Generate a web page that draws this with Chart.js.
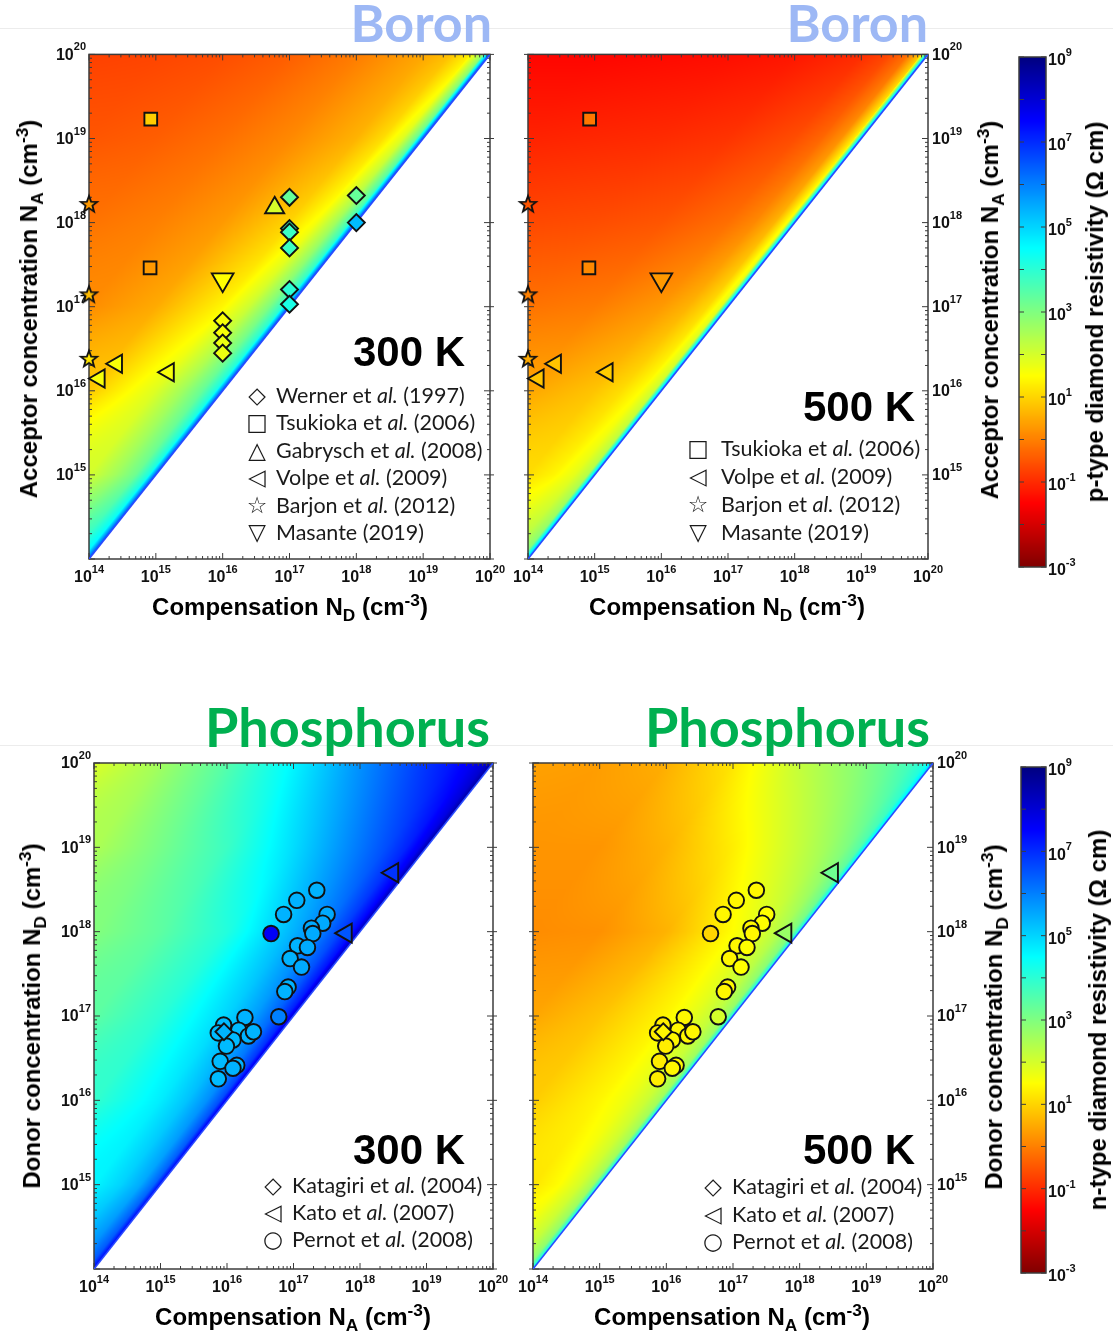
<!DOCTYPE html>
<html>
<head>
<meta charset="utf-8">
<title>Diamond resistivity maps</title>
<script src="https://cdn.jsdelivr.net/npm/chart.js@4.4.1/dist/chart.umd.min.js"></script>
<style>
  html, body { margin: 0; padding: 0; background: #fff; }
  body { position: relative; width: 1113px; height: 1340px; overflow: hidden;
         font-family: "Liberation Sans", Arial, sans-serif; }
  canvas, .t { position: absolute; }
  .t { white-space: nowrap; line-height: 1; }
  .title { font-family: Lato, sans-serif; font-weight: 700; font-size: 52px; }
  .boron { color: #9db8f5; }
  .phos { color: #00b050; font-size: 54px; }
  .temp { font-weight: 700; font-size: 42px; color: #000; }
  .ax { font-weight: 700; font-size: 24px; color: #000; }
  .ax sub, .ax sup { font-size: 0.72em; position: relative; vertical-align: baseline; }
  .ax sub { top: 0.35em; }
  .ax sup { top: -0.55em; }
  .xt { transform: translateX(-50%); }
  .rot { transform: translate(-50%, -50%) rotate(-90deg); }
  .leg { position: absolute; font-family: Lato, sans-serif; font-size: 21.5px; color: #1a1a1a; white-space: nowrap; }
  .leg div { position: relative; }
  .leg .m { position: absolute; left: 0; top: 0; width: 24px; text-align: center;
            font-family: "DejaVu Sans", sans-serif; font-weight: bold; font-size: 23px; }
  .leg .s { position: absolute; left: 31px; top: 0; }
  .sep { position: absolute; left: 0; width: 1113px; height: 1px; background: #ececec; }
</style>
</head>
<body>
<div class="sep" style="top:28px"></div>
<div class="sep" style="top:745px"></div>

<div class="t title boron" style="right:621px; top:-4px">Boron</div>
<div class="t title boron" style="right:185px; top:-4px">Boron</div>
<div class="t title phos" style="right:623px; top:700px">Phosphorus</div>
<div class="t title phos" style="right:183px; top:700px">Phosphorus</div>

<canvas id="cTL" width="475" height="560" style="left:30px; top:40px"></canvas>
<canvas id="cTR" width="470" height="560" style="left:510px; top:40px"></canvas>
<canvas id="cBL" width="475" height="560" style="left:35px; top:750px"></canvas>
<canvas id="cBR" width="470" height="560" style="left:513px; top:750px"></canvas>
<canvas id="cbTop" width="80" height="535" style="left:1005px; top:45px"></canvas>
<canvas id="cbBot" width="80" height="530" style="left:1005px; top:755px"></canvas>

<div class="t temp" style="left:353px; top:331px">300 K</div>
<div class="t temp" style="left:803px; top:386px">500 K</div>
<div class="t temp" style="left:353px; top:1129px">300 K</div>
<div class="t temp" style="left:803px; top:1129px">500 K</div>

<div class="leg" style="left:245px; top:382px; line-height:27.4px">
  <div style="height:27.4px"><span class="m">◇</span><span class="s">Werner et <i>al.</i> (1997)</span></div>
  <div style="height:27.4px"><span class="m">□</span><span class="s">Tsukioka et <i>al.</i> (2006)</span></div>
  <div style="height:27.4px"><span class="m">△</span><span class="s">Gabrysch et <i>al.</i> (2008)</span></div>
  <div style="height:27.4px"><span class="m">◁</span><span class="s">Volpe et <i>al.</i> (2009)</span></div>
  <div style="height:27.4px"><span class="m">☆</span><span class="s">Barjon et <i>al.</i> (2012)</span></div>
  <div style="height:27.4px"><span class="m">▽</span><span class="s">Masante (2019)</span></div>
</div>
<div class="leg" style="left:686px; top:434px; line-height:28px">
  <div style="height:28px"><span class="m">□</span><span class="s" style="left:35px">Tsukioka et <i>al.</i> (2006)</span></div>
  <div style="height:28px"><span class="m">◁</span><span class="s" style="left:35px">Volpe et <i>al.</i> (2009)</span></div>
  <div style="height:27.5px"><span class="m">☆</span><span class="s" style="left:35px">Barjon et <i>al.</i> (2012)</span></div>
  <div style="height:27.5px"><span class="m">▽</span><span class="s" style="left:35px">Masante (2019)</span></div>
</div>
<div class="leg" style="left:261px; top:1172px; line-height:27px">
  <div style="height:27px"><span class="m">◇</span><span class="s">Katagiri et <i>al.</i> (2004)</span></div>
  <div style="height:27px"><span class="m">◁</span><span class="s">Kato et <i>al.</i> (2007)</span></div>
  <div style="height:27px"><span class="m">○</span><span class="s">Pernot et <i>al.</i> (2008)</span></div>
</div>
<div class="leg" style="left:701px; top:1173px; line-height:27.5px">
  <div style="height:27.5px"><span class="m">◇</span><span class="s">Katagiri et <i>al.</i> (2004)</span></div>
  <div style="height:27.5px"><span class="m">◁</span><span class="s">Kato et <i>al.</i> (2007)</span></div>
  <div style="height:27.5px"><span class="m">○</span><span class="s">Pernot et <i>al.</i> (2008)</span></div>
</div>

<div class="t ax xt" style="left:290px; top:595px">Compensation N<sub>D</sub> (cm<sup>-3</sup>)</div>
<div class="t ax xt" style="left:727px; top:595px">Compensation N<sub>D</sub> (cm<sup>-3</sup>)</div>
<div class="t ax xt" style="left:293px; top:1305px">Compensation N<sub>A</sub> (cm<sup>-3</sup>)</div>
<div class="t ax xt" style="left:732px; top:1305px">Compensation N<sub>A</sub> (cm<sup>-3</sup>)</div>

<div class="t ax rot" style="left:29px; top:309px">Acceptor concentration N<sub>A</sub> (cm<sup>-3</sup>)</div>
<div class="t ax rot" style="left:990px; top:310px">Acceptor concentration N<sub>A</sub> (cm<sup>-3</sup>)</div>
<div class="t ax rot" style="left:1095px; top:312px">p-type diamond resistivity (Ω cm)</div>
<div class="t ax rot" style="left:32px; top:1016px">Donor concentration N<sub>D</sub> (cm<sup>-3</sup>)</div>
<div class="t ax rot" style="left:994px; top:1017px">Donor concentration N<sub>D</sub> (cm<sup>-3</sup>)</div>
<div class="t ax rot" style="left:1098px; top:1020px">n-type diamond resistivity (Ω cm)</div>

<script>
// axis decades (log10 of cm^-3) and colour bar decades (log10 of ohm cm)
const decades = [14, 15, 16, 17, 18, 19, 20];
const yLabelled = [15, 16, 17, 18, 19, 20];
const cbDecades = [-3, -2, -1, 0, 1, 2, 3, 4, 5, 6, 7, 8, 9];
const cbLabelled = [9, 7, 5, 3, 1, -1, -3];

// resistivity maps, log10(rho)
// rows: log10 of the doping on the y axis, cols: log10(x / y) i.e. decades left of the diagonal
const mapRows = [14, 15, 16, 17, 18, 19, 20];
const mapCols = [-6, -5, -4, -3, -2, -1, -0.6, -0.3, -0.1, 0];

const rhoB300 = [
  [3.6, 3.6, 3.6, 3.6, 3.6, 3.6, 3.8, 4.1, 4.6, 6.5],
  [2.0, 2.0, 2.0, 2.0, 2.0, 2.0, 2.6, 3.2, 4.2, 6.5],
  [0.85, 0.85, 0.85, 0.85, 0.85, 1.9, 2.6, 3.3, 4.2, 6.5],
  [0.15, 0.15, 0.15, 0.15, 0.5, 1.4, 2.1, 3.0, 4.0, 6.5],
  [-0.15, -0.15, -0.15, 0.0, 0.3, 1.0, 1.6, 2.6, 3.8, 6.5],
  [-0.5, -0.5, -0.4, -0.2, 0.1, 0.6, 1.1, 1.9, 3.3, 6.5],
  [-0.75, -0.7, -0.6, -0.4, -0.05, 0.45, 0.75, 1.3, 2.8, 6.5]
];
const rhoB500 = [
  [2.2, 2.2, 2.2, 2.2, 2.2, 2.2, 2.3, 2.5, 3.0, 5.5],
  [1.1, 1.1, 1.1, 1.1, 1.1, 1.1, 1.4, 1.8, 2.4, 5.5],
  [0.45, 0.45, 0.45, 0.45, 0.45, 0.8, 1.1, 1.5, 2.1, 5.5],
  [-0.2, -0.2, -0.2, -0.15, -0.05, 0.3, 0.6, 1.05, 1.8, 5.5],
  [-0.7, -0.7, -0.65, -0.6, -0.5, -0.2, 0.1, 0.6, 1.6, 5.5],
  [-1.1, -1.1, -1.05, -1.0, -0.9, -0.6, -0.3, 0.2, 1.3, 5.5],
  [-1.45, -1.45, -1.4, -1.35, -1.25, -1.0, -0.7, -0.2, 0.9, 5.5]
];
const rhoP300 = [
  [5.2, 5.2, 5.2, 5.2, 5.2, 5.2, 5.5, 5.9, 6.5, 7.5],
  [4.6, 4.6, 4.6, 4.6, 4.6, 4.6, 5.0, 5.5, 6.3, 7.5],
  [3.9, 3.9, 3.9, 3.9, 3.9, 4.7, 5.2, 5.8, 6.6, 7.8],
  [3.4, 3.4, 3.4, 3.4, 4.0, 5.0, 5.6, 6.3, 7.1, 8.0],
  [2.95, 2.95, 2.95, 3.4, 4.1, 5.4, 6.0, 6.7, 7.4, 8.3],
  [2.45, 2.45, 3.1, 3.8, 4.9, 6.1, 6.6, 7.1, 7.7, 8.5],
  [1.9, 2.6, 3.5, 4.6, 5.8, 6.9, 7.3, 7.7, 8.1, 8.6]
];
const rhoP500 = [
  [1.7, 1.7, 1.7, 1.7, 1.7, 1.7, 1.9, 2.3, 2.9, 4.5],
  [1.2, 1.2, 1.2, 1.2, 1.2, 1.2, 1.5, 2.0, 2.6, 4.5],
  [0.9, 0.9, 0.9, 0.9, 0.9, 1.4, 1.7, 2.1, 2.6, 4.5],
  [0.45, 0.45, 0.45, 0.45, 0.8, 1.4, 1.8, 2.2, 2.7, 4.5],
  [0.15, 0.15, 0.15, 0.2, 0.6, 1.5, 1.9, 2.4, 3.0, 4.5],
  [0.25, 0.25, 0.25, 0.6, 1.3, 2.2, 2.6, 3.0, 3.5, 4.8],
  [0.4, 0.35, 0.55, 1.2, 2.2, 3.0, 3.4, 3.8, 4.2, 5.0]
];

// boron-doped samples: compensation ND (x), acceptor NA (y), marker fill as log10(rho)
const wernerND = [1e16, 1e16, 1e16, 1e16, 1e17, 1e17, 1e17, 1e17, 1e17, 1e17, 1e18, 1e18];
const wernerNA = [6.8e16, 4.9e16, 3.7e16, 2.8e16, 2.0e18, 8.5e17, 7.7e17, 5.0e17, 1.6e17, 1.07e17, 2.1e18, 1.0e18];
const wernerR300 = [1.6, 1.6, 1.7, 1.7, 3.3, 3.8, 3.8, 3.8, 4.0, 4.2, 3.3, 5.3];
const tsukiokaND = [8.4e14, 8.2e14];
const tsukiokaNA = [1.7e19, 2.9e17];
const tsukiokaR300 = [0.9, 0.3];
const tsukiokaR500 = [-0.1, 0.1];
const gabryschND = [6e16];
const gabryschNA = [1.5e18];
const gabryschR300 = [2.0];
const volpeND = [1.43e14, 2.6e14, 1.55e15];
const volpeNA = [1.4e16, 2.1e16, 1.66e16];
const volpeR300 = [1.6, 1.6, 1.6];
const volpeR500 = [0.8, 0.8, 0.9];
const barjonND = [1e14, 1e14, 1e14];
const barjonNA = [1.66e18, 1.4e17, 2.4e16];
const barjonR300 = [0.3, 0.7, 1.2];
const barjonR500 = [-0.5, 0.0, 0.5];
const masanteND = [1e16];
const masanteNA = [2.1e17];
const masanteR300 = [1.5];
const masanteR500 = [0.3];

// phosphorus-doped samples: compensation NA (x), donor ND (y)
const pernotNA = [7.1e16, 1.12e17, 2.24e17, 3.2e17, 2.75e17, 1.86e17, 1.95e17, 4.6e16, 1.15e17,
  1.62e17, 8.9e16, 1.32e17, 8.3e16, 7.4e16, 6.0e16, 1.86e16, 8.9e15, 7.4e15, 1.5e16, 2.1e16,
  2.5e16, 1.23e16, 9.8e15, 7.9e15, 1.4e16, 1.23e16, 7.4e15];
const pernotND = [1.6e18, 2.35e18, 3.1e18, 1.6e18, 1.26e18, 1.1e18, 9.5e17, 9.5e17, 6.8e17,
  6.5e17, 4.8e17, 3.8e17, 2.2e17, 1.95e17, 9.8e16, 9.6e16, 7.8e16, 6.3e16, 6.8e16, 5.8e16,
  6.5e16, 5.2e16, 4.4e16, 2.9e16, 2.6e16, 2.4e16, 1.8e16];
const pernotR300 = [5.4, 5.4, 5.4, 5.5, 5.5, 5.5, 5.5, 7.6, 5.4, 5.5, 5.4, 5.5, 5.4, 5.4, 6.0,
  5.4, 5.3, 5.3, 5.3, 5.4, 5.4, 5.3, 5.3, 5.3, 5.4, 5.4, 5.3];
const pernotR500 = [1.4, 1.4, 1.4, 1.5, 1.5, 1.4, 1.4, 1.0, 1.4, 1.5, 1.4, 1.5, 1.4, 1.4, 2.0,
  1.4, 1.3, 1.3, 1.4, 1.4, 1.4, 1.4, 1.3, 1.3, 1.4, 1.4, 1.3];
const katagiriNA = [9e15];
const katagiriND = [6.5e16];
const katagiriR300 = [5.4];
const katagiriR500 = [1.4];
const katoNA = [3.1e18, 6.2e17];
const katoND = [5e18, 9.6e17];
const katoR300 = [6.9, 6.5];
const katoR500 = [3.2, 2.7];

// jet colour map, 10^-3 (dark red) to 10^9 (dark blue)
function jet(L) {
  const f = Math.min(1, Math.max(0, (9 - L) / 12));
  const cl = v => Math.round(255 * Math.min(1, Math.max(0, v)));
  return [cl(1.5 - Math.abs(4 * f - 3)), cl(1.5 - Math.abs(4 * f - 2)), cl(1.5 - Math.abs(4 * f - 1))];
}
function jetCss(L) {
  const c = jet(L);
  return 'rgb(' + c[0] + ',' + c[1] + ',' + c[2] + ')';
}

function mapValue(grid, ly, c) {
  ly = Math.min(20, Math.max(14, ly));
  c = Math.min(0, Math.max(-6, c));
  let i = 0;
  while (i < mapRows.length - 2 && ly > mapRows[i + 1]) i++;
  let j = 0;
  while (j < mapCols.length - 2 && c > mapCols[j + 1]) j++;
  const ty = (ly - mapRows[i]) / (mapRows[i + 1] - mapRows[i]);
  const tx = (c - mapCols[j]) / (mapCols[j + 1] - mapCols[j]);
  const a = grid[i][j] * (1 - tx) + grid[i][j + 1] * tx;
  const b = grid[i + 1][j] * (1 - tx) + grid[i + 1][j + 1] * tx;
  return a * (1 - ty) + b * ty;
}

// "10" with a raised exponent, like the MATLAB tick labels
const baseFont = 'bold 16px "Liberation Sans", Arial, sans-serif';
const expFont = 'bold 11px "Liberation Sans", Arial, sans-serif';
function drawPow(ctx, x, y, e, align) {
  ctx.font = baseFont;
  const wb = ctx.measureText('10').width;
  ctx.font = expFont;
  const we = ctx.measureText(String(e)).width;
  let x0 = x;
  if (align === 'center') x0 = x - (wb + we) / 2;
  if (align === 'right') x0 = x - wb - we;
  ctx.fillStyle = '#111';
  ctx.textBaseline = 'middle';
  ctx.textAlign = 'left';
  ctx.font = baseFont;
  ctx.fillText('10', x0, y);
  ctx.font = expFont;
  ctx.fillText(String(e), x0 + wb, y - 8);
}

function heatPlugin(grid) {
  return {
    id: 'heat',
    beforeDatasetsDraw(chart) {
      const a = chart.chartArea, xs = chart.scales.x, ys = chart.scales.y;
      const w = Math.round(a.right - a.left), h = Math.round(a.bottom - a.top);
      const img = chart.ctx.createImageData(w, h);
      const lx = [];
      for (let i = 0; i < w; i++) lx.push(Math.log10(xs.getValueForPixel(a.left + i + 0.5)));
      for (let r = 0; r < h; r++) {
        const ly = Math.log10(ys.getValueForPixel(a.top + r + 0.5));
        for (let i = 0; i < w; i++) {
          if (lx[i] > ly) continue;
          const col = jet(mapValue(grid, ly, lx[i] - ly));
          const k = (r * w + i) * 4;
          img.data[k] = col[0]; img.data[k + 1] = col[1]; img.data[k + 2] = col[2]; img.data[k + 3] = 255;
        }
      }
      chart.ctx.putImageData(img, Math.round(a.left), Math.round(a.top));
    }
  };
}

function framePlugin(ySide) {
  return {
    id: 'frame',
    beforeDatasetsDraw(chart) {
      const ctx = chart.ctx, a = chart.chartArea, xs = chart.scales.x, ys = chart.scales.y;
      ctx.save();
      ctx.strokeStyle = '#3c3c3c';
      ctx.lineWidth = 1.5;
      ctx.strokeRect(a.left, a.top, a.right - a.left, a.bottom - a.top);
      ctx.lineWidth = 1;
      ctx.beginPath();
      decades.forEach(function (e) {
        for (let k = 1; k <= 9; k++) {
          if (e === 20 && k > 1) break;
          const v = k * Math.pow(10, e), len = k === 1 ? 6 : 3;
          const px = xs.getPixelForValue(v), py = ys.getPixelForValue(v);
          ctx.moveTo(px, a.bottom); ctx.lineTo(px, a.bottom - len);
          ctx.moveTo(px, a.top); ctx.lineTo(px, a.top + len);
          ctx.moveTo(a.left, py); ctx.lineTo(a.left + len, py);
          ctx.moveTo(a.right, py); ctx.lineTo(a.right - len, py);
          if (k === 1) {
            if (ySide === 'left') { ctx.moveTo(a.right, py); ctx.lineTo(a.right + 4, py); }
            else { ctx.moveTo(a.left, py); ctx.lineTo(a.left - 4, py); }
          }
        }
      });
      ctx.stroke();
      decades.forEach(function (e) {
        drawPow(ctx, xs.getPixelForValue(Math.pow(10, e)), a.bottom + 19, e, 'center');
      });
      yLabelled.forEach(function (e) {
        const py = ys.getPixelForValue(Math.pow(10, e));
        if (ySide === 'left') drawPow(ctx, a.left - 3, py + 1, e, 'right');
        else drawPow(ctx, a.right + 4, py + 1, e, 'left');
      });
      ctx.restore();
    }
  };
}

const starCache = {};
function starImage(fill) {
  if (starCache[fill]) return starCache[fill];
  const c = document.createElement('canvas');
  c.width = 22; c.height = 22;
  const g = c.getContext('2d');
  g.beginPath();
  for (let i = 0; i < 10; i++) {
    const r = i % 2 === 0 ? 8.6 : 3.6;
    const t = -Math.PI / 2 + i * Math.PI / 5;
    g.lineTo(11 + r * Math.cos(t), 11.5 + r * Math.sin(t));
  }
  g.closePath();
  g.fillStyle = fill;
  g.fill();
  g.lineWidth = 1.8;
  g.strokeStyle = '#111';
  g.stroke();
  starCache[fill] = c;
  return c;
}

function pts(xv, yv) {
  return xv.map(function (x, i) { return { x: x, y: yv[i] }; });
}

function series(xv, yv, rho, style, radius, rotation) {
  const fills = rho.map(jetCss);
  const ds = {
    data: pts(xv, yv),
    backgroundColor: fills,
    borderColor: '#111',
    borderWidth: 1.9,
    pointRadius: radius,
    pointHoverRadius: radius,
    pointRotation: rotation || 0,
    pointStyle: style,
    clip: false
  };
  if (style === 'star') {
    ds.pointStyle = function (c) { return starImage(fills[c.dataIndex]); };
  }
  return ds;
}

const diagonal = {
  data: [{ x: 1e14, y: 1e14 }, { x: 1e20, y: 1e20 }],
  showLine: true,
  borderColor: '#2a4bff',
  borderWidth: 1.6,
  pointRadius: 0,
  order: 99
};

function panel(id, grid, sets, pad, ySide) {
  new Chart(document.getElementById(id), {
    type: 'scatter',
    data: { datasets: sets.concat([Object.assign({}, diagonal)]) },
    options: {
      responsive: false,
      animation: false,
      devicePixelRatio: 1,
      events: [],
      layout: { padding: pad },
      plugins: { legend: { display: false }, tooltip: { enabled: false } },
      scales: {
        x: { type: 'logarithmic', min: 1e14, max: 1e20, display: false },
        y: { type: 'logarithmic', min: 1e14, max: 1e20, display: false }
      }
    },
    plugins: [heatPlugin(grid), framePlugin(ySide)]
  });
}

function colorBar(id, pad) {
  new Chart(document.getElementById(id), {
    type: 'scatter',
    data: { datasets: [] },
    options: {
      responsive: false,
      animation: false,
      devicePixelRatio: 1,
      events: [],
      layout: { padding: pad },
      plugins: { legend: { display: false }, tooltip: { enabled: false } },
      scales: {
        x: { type: 'linear', min: 0, max: 1, display: false },
        y: { type: 'logarithmic', min: 1e-3, max: 1e9, display: false }
      }
    },
    plugins: [{
      id: 'bar',
      afterDraw(chart) {
        const ctx = chart.ctx, a = chart.chartArea, ys = chart.scales.y;
        for (let py = Math.round(a.top); py < Math.round(a.bottom); py++) {
          ctx.fillStyle = jetCss(Math.log10(ys.getValueForPixel(py + 0.5)));
          ctx.fillRect(a.left, py, a.right - a.left, 1);
        }
        ctx.strokeStyle = '#3c3c3c';
        ctx.lineWidth = 1.5;
        ctx.strokeRect(a.left, a.top, a.right - a.left, a.bottom - a.top);
        ctx.lineWidth = 1;
        ctx.beginPath();
        cbDecades.forEach(function (e) {
          const py = ys.getPixelForValue(Math.pow(10, e));
          ctx.moveTo(a.left, py); ctx.lineTo(a.left + 5, py);
          ctx.moveTo(a.right, py); ctx.lineTo(a.right - 5, py);
        });
        ctx.stroke();
        cbLabelled.forEach(function (e) {
          drawPow(ctx, a.right + 2, ys.getPixelForValue(Math.pow(10, e)) + 4, e, 'left');
        });
      }
    }]
  });
}

const boron300 = [
  series(barjonND, barjonNA, barjonR300, 'star', 9),
  series(volpeND, volpeNA, volpeR300, 'triangle', 10.5, 270),
  series(masanteND, masanteNA, masanteR300, 'triangle', 12.5, 180),
  series(gabryschND, gabryschNA, gabryschR300, 'triangle', 11),
  series(tsukiokaND, tsukiokaNA, tsukiokaR300, 'rect', 9),
  series(wernerND, wernerNA, wernerR300, 'rectRot', 8.5)
];
const boron500 = [
  series(barjonND, barjonNA, barjonR500, 'star', 9),
  series(volpeND, volpeNA, volpeR500, 'triangle', 10.5, 270),
  series(masanteND, masanteNA, masanteR500, 'triangle', 12.5, 180),
  series(tsukiokaND, tsukiokaNA, tsukiokaR500, 'rect', 9)
];
const phos300 = [
  series(katoNA, katoND, katoR300, 'triangle', 11, 270),
  series(katagiriNA, katagiriND, katagiriR300, 'rectRot', 8.5),
  series(pernotNA, pernotND, pernotR300, 'circle', 7.8)
];
const phos500 = [
  series(katoNA, katoND, katoR500, 'triangle', 11, 270),
  series(katagiriNA, katagiriND, katagiriR500, 'rectRot', 8.5),
  series(pernotNA, pernotND, pernotR500, 'circle', 7.8)
];

panel('cTL', rhoB300, boron300, { left: 59, top: 12, right: 15, bottom: 41 }, 'left');
panel('cTR', rhoB500, boron500, { left: 18, top: 12, right: 52, bottom: 41 }, 'right');
panel('cBL', rhoP300, phos300, { left: 59, top: 13, right: 17, bottom: 41 }, 'left');
panel('cBR', rhoP500, phos500, { left: 20, top: 13, right: 50, bottom: 41 }, 'right');
colorBar('cbTop', { left: 14, top: 12, right: 39, bottom: 13 });
colorBar('cbBot', { left: 16, top: 12, right: 39, bottom: 12 });
</script>
</body>
</html>
